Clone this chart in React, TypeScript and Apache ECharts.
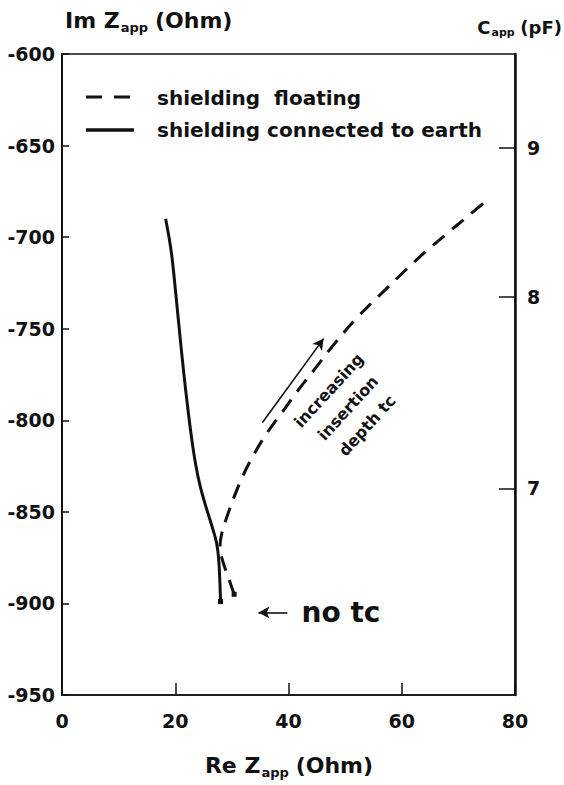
import React, { useEffect, useRef } from 'react';
import * as echarts from 'echarts';

// ---- data ----
const reMin = 0;
const reMax = 80;
const reStep = 20;
const imMin = -950;
const imMax = -600;
const imStep = 50;

// shielding connected to earth (solid)
const solidRe = [18.3, 19.0, 19.5, 20.1, 20.8, 21.5, 22.2, 22.9, 23.6, 24.4, 25.4, 26.5, 27.3, 27.7, 28.0];
const solidIm = [-690, -702, -713, -731, -753, -774, -793, -810, -824, -836, -847, -858, -867, -877, -899];

// shielding floating (dashed)
const dashedRe = [30.4, 29.4, 28.4, 27.9, 28.2, 29.2, 30.5, 32.0, 34.0, 36.3, 38.8, 41.6, 44.9, 48.3, 52.1, 56.0, 60.0, 64.0, 68.0, 71.5, 75.0];
const dashedIm = [-895, -886, -877, -869, -862, -852, -841, -830, -818, -806.5, -796, -784, -771, -757.5, -744, -732, -720, -708.5, -698, -689, -680];

// right axis: apparent capacitance ticks (pF); C = CAP_K / |Im Z|
const capTicks = [9, 8, 7];
const CAP_K = 5860;

// annotations (data coordinates)
const trendArrowFrom = [35.4, -801.2];
const trendArrowTo = [46.2, -755.4];
const trendTextAt = [50.5, -793.3];
const trendLines = ['increasing', 'insertion', 'depth tc'];
const noTcArrowFrom = [39.8, -905];
const noTcArrowTo = [34.7, -905];
const noTcTextAt = [42.3, -905];

const legendNames = ['shielding  floating', 'shielding connected to earth'];

const FONT = '"DejaVu Sans", "Liberation Sans", sans-serif';
const INK = '#111';

export default function App() {
  const ref = useRef<HTMLDivElement>(null);

  useEffect(() => {
    document.body.style.margin = '0';
    const chart = echarts.init(ref.current!, null, { renderer: 'svg' });
    const capPos = capTicks.map((c) => -CAP_K / c);

    const solidData: any[] = solidRe.map((x, i) => [x, solidIm[i]]);
    solidData[solidData.length - 1] = { value: solidData[solidData.length - 1], symbol: 'rect', symbolSize: 5 };
    const dashedData: any[] = dashedRe.map((x, i) => [x, dashedIm[i]]);
    dashedData[0] = { value: dashedData[0], symbol: 'rect', symbolSize: 5 };

    const labelStyle = { color: INK, fontFamily: FONT, fontWeight: 'bold' as const, fontSize: 19 };

    chart.setOption({
      animation: false,
      backgroundColor: '#fff',
      grid: { left: 62, right: 49, top: 54, bottom: 90, show: true, borderColor: INK, borderWidth: 1.5, backgroundColor: 'transparent' },
      xAxis: {
        type: 'value', min: reMin, max: reMax, interval: reStep,
        axisLine: { show: true, onZero: false, lineStyle: { color: INK, width: 1.5 } },
        axisTick: { show: true, inside: true, length: 12, lineStyle: { color: INK, width: 1.5 } },
        axisLabel: { ...labelStyle, margin: 16 },
        splitLine: { show: false },
      },
      yAxis: [
        {
          type: 'value', min: imMin, max: imMax, interval: imStep,
          axisLine: { show: true, onZero: false, lineStyle: { color: INK, width: 2 } },
          axisTick: { show: true, inside: true, length: 7, lineStyle: { color: INK, width: 1.5 } },
          axisLabel: { ...labelStyle, margin: 7 },
          splitLine: { show: false },
        },
        {
          type: 'value', min: imMin, max: imMax, position: 'right',
          axisLine: { show: true, onZero: false, lineStyle: { color: INK, width: 2.5 } },
          axisTick: { show: true, inside: true, length: 16, customValues: capPos, lineStyle: { color: INK, width: 1.5 } },
          axisLabel: { ...labelStyle, margin: 12, customValues: capPos, formatter: (v: number) => String(Math.round(CAP_K / -v)) },
          splitLine: { show: false },
        },
      ],
      series: [
        {
          name: legendNames[0], type: 'line', data: dashedData, smooth: 0.35,
          symbol: 'none', showSymbol: true, itemStyle: { color: INK },
          lineStyle: { color: INK, width: 3, type: [15, 10] }, silent: true,
          markLine: {
            silent: true, animation: false, symbol: ['arrow', 'none'], symbolSize: [9, 11],
            label: { show: false }, emphasis: { disabled: true },
            lineStyle: { color: INK, width: 1.6, type: 'solid', curveness: 0 },
            data: [[{ coord: noTcArrowTo }, { coord: noTcArrowFrom }]],
          },
        },
        {
          name: legendNames[1], type: 'line', data: solidData, smooth: 0.35,
          symbol: 'none', showSymbol: true, itemStyle: { color: INK },
          lineStyle: { color: INK, width: 3 }, silent: true,
          markLine: {
            silent: true, animation: false, symbol: ['none', 'arrow'], symbolSize: [9, 11],
            label: { show: false }, emphasis: { disabled: true },
            lineStyle: { color: INK, width: 1.6, type: 'solid', curveness: 0.15 },
            data: [[{ coord: trendArrowFrom }, { coord: trendArrowTo }]],
          },
        },
      ],
    });

    const cv = document.createElement('canvas').getContext('2d')!;
    const w = (t: string, s: number) => { cv.font = `bold ${s}px ${FONT}`; return cv.measureText(t).width; };
    const txt = (x: number, y: number, text: string, size: number, extra: any = {}) => ({
      type: 'text', x, y, silent: true,
      style: { text, fill: INK, fontFamily: FONT, fontWeight: 'bold', fontSize: size, align: 'left', verticalAlign: 'middle', textAlign: 'left', textVerticalAlign: 'middle', ...extra },
    });
    // text with subscript: main, sub, tail
    const subLabel = (x: number, y: number, main: string, sub: string, tail: string, size: number, subSize: number, dy: number) => {
      const w1 = w(main, size);
      const w2 = w(sub, subSize);
      const ws = w(' ', size) * 0.9;
      return [
        txt(x, y, main, size),
        txt(x + w1 + 1, y + dy, sub, subSize),
        txt(x + w1 + w2 + ws + 1, y, tail, size),
      ];
    };
    const subWidth = (main: string, sub: string, tail: string, size: number, subSize: number) => w(main, size) + w(sub, subSize) + w(' ', size) * 0.9 + w(tail, size) + 1;

    const p = (c: number[]) => chart.convertToPixel({ xAxisIndex: 0, yAxisIndex: 0 }, c) as number[];
    const tPos = p(trendTextAt);
    const nPos = p(noTcTextAt);

    const capW = subWidth('C', 'app', '(pF)', 18, 11);
    const reW = subWidth('Re Z', 'app', '(Ohm)', 22, 13);

    const graphic: any[] = [
      ...subLabel(65, 20, 'Im Z', 'app', '(Ohm)', 22, 13, 7),
      ...subLabel(562 - capW, 27, 'C', 'app', '(pF)', 18, 11, 5),
      ...subLabel(289 - reW / 2, 765, 'Re Z', 'app', '(Ohm)', 22, 13, 7),
      // legend
      { type: 'line', silent: true, shape: { x1: 86, y1: 97, x2: 134, y2: 97 }, style: { stroke: INK, lineWidth: 3, lineDash: [16, 12] } },
      txt(157, 98, legendNames[0], 20),
      { type: 'line', silent: true, shape: { x1: 86, y1: 130, x2: 134, y2: 130 }, style: { stroke: INK, lineWidth: 3.5 } },
      txt(157, 130, legendNames[1], 20),
      // annotations
      {
        type: 'text', x: tPos[0], y: tPos[1], rotation: (47.5 * Math.PI) / 180, silent: true,
        style: { text: trendLines.join('\n'), fill: INK, fontFamily: FONT, fontWeight: 'bold', fontSize: 16, lineHeight: 26, align: 'center', verticalAlign: 'middle', textAlign: 'center', textVerticalAlign: 'middle' },
      },
      txt(nPos[0], nPos[1], 'no tc', 28),
    ];
    chart.setOption({ graphic });

    return () => chart.dispose();
  }, []);

  return <div ref={ref} style={{ position: 'fixed', left: 0, top: 0, width: 564, height: 785, background: '#fff' }} />;
}
